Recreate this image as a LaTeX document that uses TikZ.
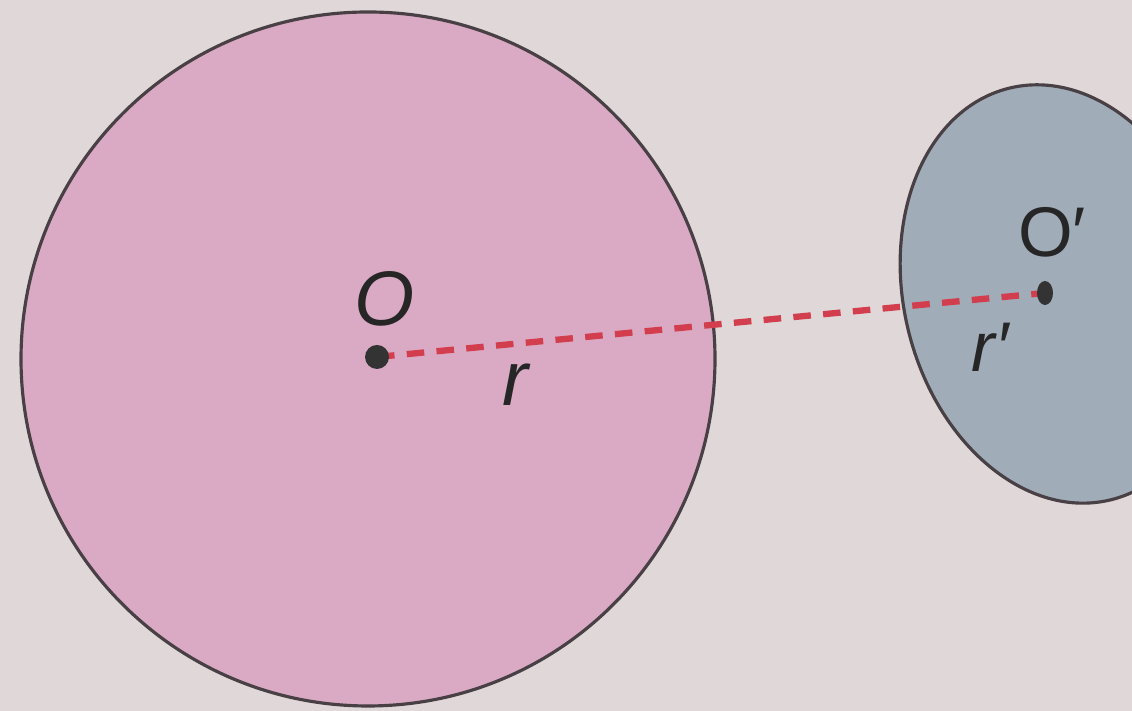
\documentclass[tikz,border=0pt]{standalone}
\usepackage{fontspec}
\setsansfont{Liberation Sans}
\definecolor{paper}{RGB}{224,216,216}
\definecolor{rosefill}{RGB}{218,170,196}
\definecolor{slatefill}{RGB}{160,172,184}
\definecolor{dashred}{RGB}{210,62,78}
\definecolor{inkline}{RGB}{72,64,68}
\begin{document}
\begin{tikzpicture}[every node/.style={font=\sffamily\itshape\fontsize{22}{26}\selectfont, text=black!85}]
\useasboundingbox (0,0) rectangle (11.32,7.11);
\fill[paper] (0,0) rectangle (11.32,7.11);
\clip (0,0) rectangle (11.32,7.11);
\coordinate (O) at (3.77,3.54);
\coordinate (Op) at (10.45,4.18);
\filldraw[fill=rosefill, draw=inkline, line width=0.9pt] (3.68,3.52) circle (3.47);
\filldraw[fill=slatefill, draw=inkline, line width=0.9pt, rotate around={14:(10.60,4.17)}] (10.60,4.17) ellipse (1.56 and 2.12);
\draw[dashred, line width=1.8pt, dash pattern=on 5pt off 3.5pt] (O) -- (Op);
\fill[black!80] (O) circle (0.12);
\fill[black!80] (Op) ellipse (0.08 and 0.12);
\node (labO) at (3.85,4.12) {O};
\node (labr) at (5.15,3.26) {r};
\node[font=\sffamily\fontsize{20}{24}\selectfont] (labOp) at (10.52,4.79) {O′};
\node[font=\sffamily\itshape\fontsize{20}{24}\selectfont] (labrp) at (9.90,3.64) {r′};
\end{tikzpicture}
\end{document}
